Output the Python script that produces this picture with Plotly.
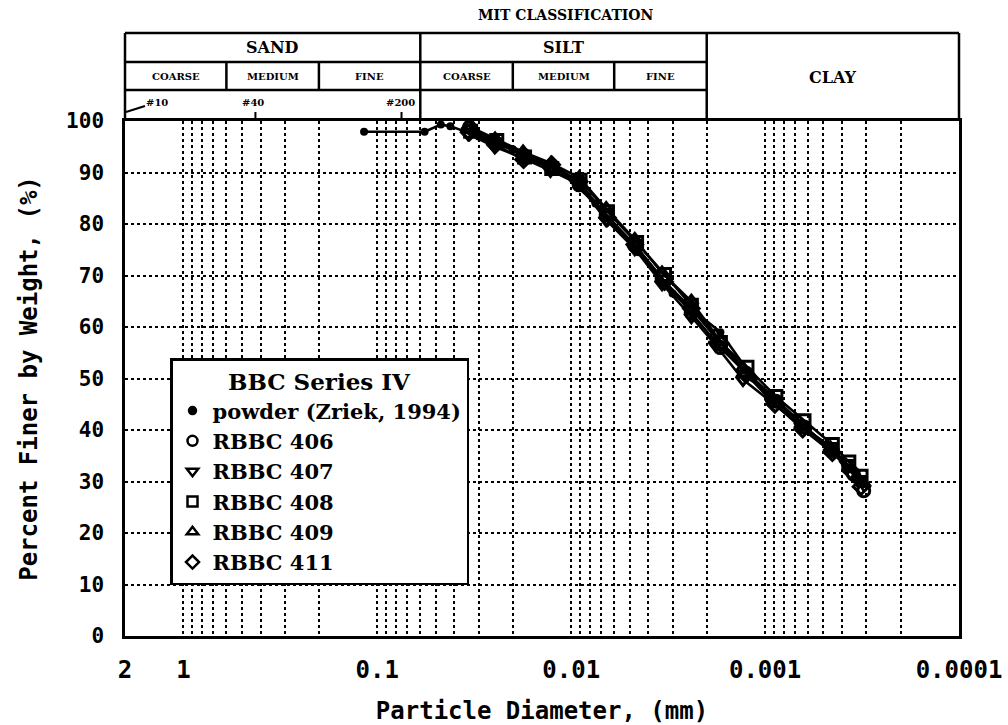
import math
import plotly.graph_objects as go

# ---------------- data ----------------
powder_d = [0.117, 0.057, 0.047, 0.042, 0.030, 0.020, 0.012, 0.0075, 0.0045, 0.0030, 0.0017, 0.00115, 0.00070, 0.00045]
powder_v = [97.9, 97.9, 99.3, 99.0, 97.0, 94.5, 91.0, 84.0, 74.5, 66.5, 59.0, 50.0, 42.5, 35.8]

r406_d = [0.0335, 0.0245, 0.0176, 0.0127, 0.0091, 0.0066, 0.0047, 0.0034, 0.0024, 0.0017, 0.00125, 0.00088, 0.00063, 0.00045, 0.00035, 0.00031]
r406_v = [98.8, 95.8, 93.4, 91.2, 87.6, 81.8, 75.8, 69.5, 62.8, 56.0, 51.0, 45.6, 40.6, 36.0, 31.4, 28.2]

r407_d = [0.034, 0.0248, 0.0178, 0.0128, 0.0092, 0.0066, 0.0047, 0.0034, 0.0024, 0.0018, 0.0013, 0.00092, 0.00065, 0.00046, 0.00038, 0.00033]
r407_v = [97.5, 95.0, 92.8, 90.4, 87.8, 80.8, 75.2, 68.4, 62.0, 56.5, 49.8, 45.4, 40.8, 36.8, 33.5, 30.4]

r408_d = [0.033, 0.0242, 0.0174, 0.0126, 0.009, 0.0065, 0.0046, 0.0033, 0.0024, 0.0017, 0.00124, 0.00088, 0.00063, 0.00045, 0.00037, 0.00032]
r408_v = [98.0, 96.2, 93.0, 90.8, 88.5, 82.4, 76.4, 70.2, 64.2, 57.0, 52.2, 46.5, 41.8, 37.2, 33.8, 31.0]

r409_d = [0.0338, 0.0247, 0.0177, 0.0127, 0.0091, 0.0066, 0.0047, 0.0034, 0.0024, 0.0018, 0.0013, 0.00091, 0.00065, 0.00046, 0.00036, 0.00031]
r409_v = [99.0, 96.5, 94.0, 91.8, 89.0, 83.0, 77.0, 70.5, 65.0, 58.5, 52.0, 46.0, 41.0, 36.5, 32.5, 29.6]

r411_d = [0.0336, 0.0246, 0.0176, 0.0126, 0.0091, 0.0065, 0.0047, 0.0033, 0.0024, 0.0017, 0.00125, 0.00089, 0.00064, 0.00045, 0.00036, 0.00032]
r411_v = [97.8, 95.4, 92.5, 91.5, 88.2, 81.2, 76.0, 68.8, 63.6, 56.8, 50.8, 45.0, 40.2, 35.6, 32.0, 29.0]

series_names = ["powder (Zriek, 1994)", "RBBC 406", "RBBC 407", "RBBC 408", "RBBC 409", "RBBC 411"]

# axis ticks
x_major = [2, 1, 0.1, 0.01, 0.001, 0.0001]
x_major_text = ["2", "1", "0.1", "0.01", "0.001", "0.0001"]
x_minor = [m * 10.0 ** e for e in (-1, -2, -3, -4) for m in (9, 8, 7, 6, 5, 4, 3, 2)]
y_ticks = [0, 10, 20, 30, 40, 50, 60, 70, 80, 90, 100]

# MIT classification boundaries (mm)
sand_bounds = [2.0, 0.6, 0.2, 0.06]
silt_bounds = [0.06, 0.02, 0.006, 0.002]
sub_labels = ["COARSE", "MEDIUM", "FINE"]
sieve_names = ["#10", "#40", "#200"]
sieve_sizes = [2.0, 0.425, 0.075]

# ---------------- figure ----------------
XMAX, XMIN = 2.0, 0.0001
LMAX, LMIN = math.log10(XMAX), math.log10(XMIN)
PLOT_L, PLOT_R, PLOT_TOP, PLOT_BOT = 125, 959, 121, 636
W = PLOT_R - PLOT_L
H = PLOT_BOT - PLOT_TOP


def px(d):
    """paper x for a diameter on the reversed log axis"""
    return (LMAX - math.log10(d)) / (LMAX - LMIN)


def py(p):
    return (PLOT_BOT - p) / H


fig = go.Figure()

styles = [
    dict(symbol="circle", size=8, color="black"),
    dict(symbol="circle-open", size=12, color="black", line=dict(width=3, color="black")),
    dict(symbol="triangle-down-open", size=12, color="black", line=dict(width=3, color="black")),
    dict(symbol="square-open", size=12, color="black", line=dict(width=3, color="black")),
    dict(symbol="triangle-up-open", size=12, color="black", line=dict(width=3, color="black")),
    dict(symbol="diamond-open", size=12, color="black", line=dict(width=3, color="black")),
]
data = [(powder_d, powder_v), (r406_d, r406_v), (r407_d, r407_v),
        (r408_d, r408_v), (r409_d, r409_v), (r411_d, r411_v)]

for (d, v), name, st in zip(data, series_names, styles):
    fig.add_trace(go.Scatter(x=d, y=v, mode="lines+markers", name=name,
                             line=dict(color="black", width=2.6),
                             marker=st, showlegend=False))
# legend entries (markers only)
for name, st in zip(series_names, styles):
    lst = dict(st)
    lst["size"] = 10 if st["symbol"] != "circle" else 7
    lst["line"] = dict(width=2.5, color="black")
    fig.add_trace(go.Scatter(x=[None], y=[None], mode="markers", name=name,
                             marker=lst, showlegend=True))

fig.update_xaxes(
    type="log", range=[LMAX, LMIN], autorange=False,
    tickvals=x_major + x_minor,
    ticktext=x_major_text + [""] * len(x_minor),
    ticks="", ticklabelstandoff=10,
    showgrid=True, gridcolor="black", griddash="dot", gridwidth=1.6,
    showline=True, linecolor="black", linewidth=2.5, mirror=True,
    zeroline=False, automargin=False,
    tickfont=dict(family="DejaVu Sans Mono", size=24, color="black", weight="bold"),
    title=dict(text="Particle Diameter, (mm)", standoff=20,
               font=dict(family="DejaVu Sans Mono", size=24, color="black", weight="bold")),
)
fig.update_yaxes(
    range=[0, 100], autorange=False, tickvals=y_ticks,
    ticktext=[str(t) for t in y_ticks],
    ticks="", ticklabelstandoff=14,
    showgrid=True, gridcolor="black", griddash="dot", gridwidth=1.6,
    showline=True, linecolor="black", linewidth=2.5, mirror=True,
    zeroline=False, automargin=False,
    tickfont=dict(family="DejaVu Sans Mono", size=21, color="black", weight="bold"),
    title=dict(text="Percent Finer by Weight, (%)", standoff=22,
               font=dict(family="DejaVu Sans Mono", size=24, color="black", weight="bold")),
)

# ---------------- classification table ----------------
y_top = py(33)
y_r1 = py(62)
y_r2 = py(90)
x_clay = px(silt_bounds[-1])
x_sandsilt = px(sand_bounds[-1])

line = dict(color="black", width=2.5)
shapes = []
shapes.append(dict(type="line", xref="paper", yref="paper", x0=0, x1=1, y0=y_top, y1=y_top, line=line))
shapes.append(dict(type="line", xref="paper", yref="paper", x0=0, x1=x_clay, y0=y_r1, y1=y_r1, line=line))
shapes.append(dict(type="line", xref="paper", yref="paper", x0=0, x1=x_clay, y0=y_r2, y1=y_r2, line=line))
for xv in (0, 1, x_sandsilt, x_clay):
    shapes.append(dict(type="line", xref="paper", yref="paper", x0=xv, x1=xv, y0=1, y1=y_top, line=line))
for b in sand_bounds[1:-1] + silt_bounds[1:-1]:
    xv = px(b)
    shapes.append(dict(type="line", xref="paper", yref="paper", x0=xv, x1=xv, y0=y_r2, y1=y_r1, line=line))
# sieve ticks
for s in sieve_sizes[1:]:
    xv = px(s)
    shapes.append(dict(type="line", xref="paper", yref="paper", x0=xv, x1=xv, y0=1, y1=py(112),
                       line=dict(color="black", width=2)))
shapes.append(dict(type="line", xref="paper", yref="paper", x0=1 / W, x1=20 / W,
                   y0=py(112), y1=py(106), line=dict(color="black", width=2)))

ann = []
lab_font = dict(family="DejaVu Serif", size=16, color="black", weight="bold")
small_font = dict(family="DejaVu Serif", size=10, color="black", weight="bold")
common = dict(xref="paper", yref="paper", showarrow=False, xanchor="center", yanchor="middle")
ann.append(dict(text="MIT CLASSIFICATION", x=0.529, y=py(15),
                font=dict(family="DejaVu Serif", size=14, color="black", weight="bold"), **common))
ann.append(dict(text="SAND", x=(px(sand_bounds[0]) + px(sand_bounds[-1])) / 2, y=(y_top + y_r1) / 2,
                font=lab_font, **common))
ann.append(dict(text="SILT", x=(px(silt_bounds[0]) + px(silt_bounds[-1])) / 2, y=(y_top + y_r1) / 2,
                font=lab_font, **common))
ann.append(dict(text="CLAY", x=(x_clay + 1) / 2, y=(y_top + 1) / 2, font=lab_font, **common))
for bounds in (sand_bounds, silt_bounds):
    for i, lab in enumerate(sub_labels):
        ann.append(dict(text=lab, x=(px(bounds[i]) + px(bounds[i + 1])) / 2, y=(y_r1 + y_r2) / 2,
                        font=small_font, **common))
sieve_label_x = [157, 253, 400]
for name, lx in zip(sieve_names, sieve_label_x):
    ann.append(dict(text=name, x=(lx - PLOT_L) / W, y=py(103), font=small_font, **common))

fig.update_layout(
    width=1008, height=725,
    margin=dict(l=PLOT_L, r=1008 - PLOT_R, t=PLOT_TOP, b=725 - PLOT_BOT, pad=0),
    paper_bgcolor="white", plot_bgcolor="white",
    shapes=shapes, annotations=ann,
    legend=dict(
        x=45 / W, y=py(358), xanchor="left", yanchor="top",
        bgcolor="white", bordercolor="black", borderwidth=2.5,
        font=dict(family="DejaVu Serif", size=21, color="black", weight="bold"),
        title=dict(text="BBC Series IV", side="top center",
                   font=dict(family="DejaVu Serif", size=23, color="black")),
        itemsizing="trace", tracegroupgap=0,
    ),
)

fig.write_html("out.html")
